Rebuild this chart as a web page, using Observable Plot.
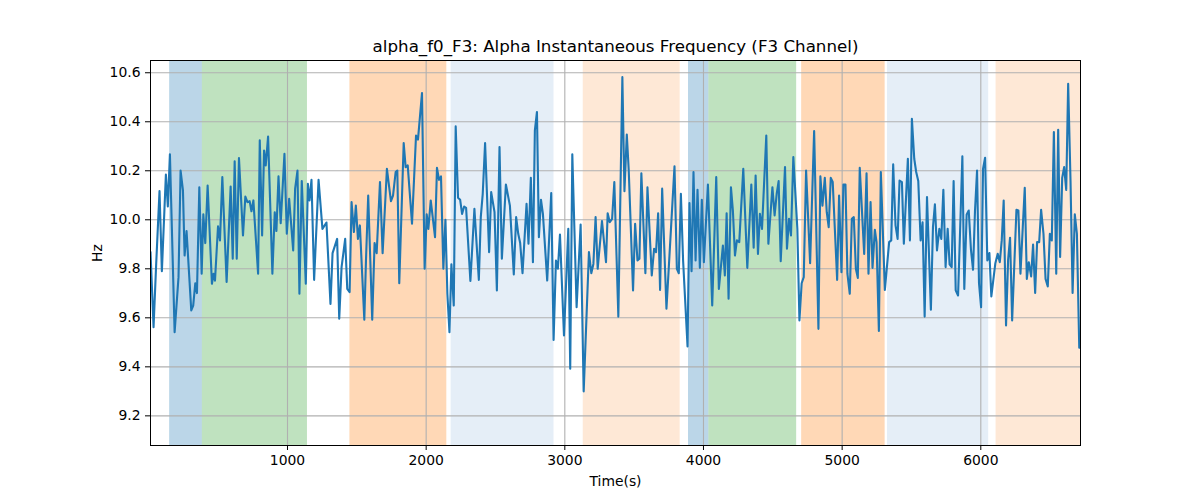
<!DOCTYPE html>
<html>
<head>
<meta charset="utf-8">
<script src="https://cdn.jsdelivr.net/npm/d3@7"></script>
<script src="https://cdn.jsdelivr.net/npm/@observablehq/plot@0.6"></script>
<style>
  html, body { margin: 0; padding: 0; background: #ffffff; }
  #chart { width: 1200px; height: 500px; }
</style>
</head>
<body>
<div id="chart"></div>
<script>
// ---- Data ----
const titleText = "alpha_f0_F3: Alpha Instantaneous Frequency (F3 Channel)";
const xLabel = "Time(s)";
const yLabel = "Hz";

const xTicks = [1000, 2000, 3000, 4000, 5000, 6000];
const yTicks = [9.2, 9.4, 9.6, 9.8, 10.0, 10.2, 10.4, 10.6];

const timeSec = [
  12,34,53,77,94,123,137,152,186,214,229,246,258,272,306,320,335,347,364,381,393,407,424,455,467,477,499,513,530,561,590,605,619,634,650,679,696,711,727,740,754,788,800,817,831,
  843,860,891,908,920,935,951,978,995,1012,1041,1055,1072,1086,1103,1132,1147,1159,1173,1192,1224,1252,1281,1310,1325,1358,1373,1390,1416,1431,1448,1462,1479,1493,1508,1522,1554,1566,1582,1611,1628,1643,1667,
  1686,1717,1746,1761,1780,1792,1806,1838,1852,1867,1898,1927,1941,1970,1989,2004,2016,2033,2064,2078,2093,2107,2124,2139,2153,2168,2182,2199,2213,2230,2245,2259,2274,2288,2319,2348,2380,2394,2408,2425,2454,2469,2493,
  2510,2529,2546,2575,2604,2632,2649,2664,2678,2695,2724,2738,2755,2770,2784,2799,2813,2828,2842,2873,2902,2919,2936,2950,2965,2994,3025,3039,3054,3085,3114,3136,3174,3191,3206,3222,3237,3268,3297,3309,3324,
  3341,3357,3386,3415,3430,3447,3461,3492,3507,3524,3538,3552,3581,3596,3627,3644,3658,3673,3687,3702,3733,3791,3808,3822,3837,3853,3885,3899,3914,3928,3943,3957,3974,3988,4003,4032,4063,4092,4111,4140,4154,
  4167,4181,4198,4212,4227,4241,4258,4287,4316,4345,4362,4376,4393,4407,4422,4453,4468,4497,4513,4528,4542,4557,4588,4602,4617,4631,4648,4677,4692,4708,4723,4740,4769,4798,4829,4843,4858,4875,4889,4903,4918,4932,4964,4978,
  4995,5009,5024,5038,5055,5070,5084,5099,5113,5127,5159,5176,5190,5205,5219,5236,5248,5265,5279,5308,5339,5354,5368,5385,5400,5414,5431,5445,5474,5489,5503,5520,5534,5549,5566,5580,5595,5612,5640,5655,5669,5684,5701,5715,5730,5746,5761,5775,5790,5804,5819,
  5836,5850,5867,5881,5898,5913,5929,5944,5958,5973,5987,6002,6016,6031,6047,6062,6076,6105,6122,6137,6151,6165,6182,6197,6211,6226,6257,6271,6286,6303,6317,6332,6346,6363,6377,6392,6406,6421,6435,6452,6467,6483,6498,6512,6527,6544,6558,6572,6587,6601,6616,6630,6647,6662,6678,6693,6710,6719
];

const freqHz = [
  9.868,9.562,9.820,10.117,9.790,10.185,10.054,10.267,9.541,9.766,10.201,10.120,9.854,9.954,9.630,9.650,9.741,9.701,10.133,9.780,10.022,9.905,10.140,9.739,9.780,9.752,9.973,9.916,10.174,9.746,10.136,9.841,10.239,9.841,10.252,9.936,10.095,10.072,10.076,10.035,10.079,9.780,10.324,9.936,10.283,
  10.222,10.340,9.780,10.031,9.954,10.177,9.986,10.269,9.943,10.086,9.875,10.127,10.201,9.698,10.158,9.739,10.147,10.079,10.163,9.755,10.163,9.963,9.989,9.657,9.864,9.922,9.596,9.807,9.922,9.718,9.705,10.072,9.950,10.058,9.922,9.977,9.592,9.834,10.099,9.592,9.905,9.864,10.154,
  9.864,10.208,10.076,10.099,10.195,10.201,9.741,10.313,10.215,10.222,9.984,10.344,10.327,10.517,9.800,10.022,9.963,10.079,9.929,10.212,10.163,10.177,9.800,10.000,9.698,9.541,9.818,9.650,10.381,10.090,10.082,10.024,10.054,10.049,9.750,10.045,9.755,10.011,10.106,10.313,9.868,10.113,10.031,
  9.712,10.297,9.841,10.144,10.058,9.777,10.011,9.943,9.905,9.782,10.065,9.902,10.171,9.827,10.365,10.440,9.929,10.082,10.024,9.752,10.109,9.510,9.834,9.800,9.940,9.528,9.963,9.392,10.267,9.643,9.981,9.300,9.868,9.782,9.820,10.011,9.800,9.995,9.827,10.027,9.990,
  10.004,10.154,9.605,10.582,10.117,10.348,10.201,9.712,9.984,9.834,9.841,10.190,9.782,10.133,9.773,9.882,9.868,10.027,9.714,10.127,9.637,10.218,9.800,9.782,10.106,9.834,9.483,10.068,9.790,10.195,9.834,10.122,9.804,10.082,9.827,10.144,9.650,10.174,9.718,9.895,9.773,
  10.027,9.678,10.133,10.038,9.854,9.916,9.909,10.208,9.804,10.144,9.886,10.181,9.861,10.024,9.963,10.344,9.902,10.133,10.018,10.106,10.158,9.831,10.215,9.882,10.004,9.936,10.256,9.963,9.589,9.741,9.766,10.201,9.823,10.362,9.555,10.177,10.058,10.171,10.031,9.970,10.171,10.154,9.755,10.099,
  9.786,10.144,10.144,9.780,9.698,10.004,10.011,9.800,9.763,10.212,9.861,10.190,9.780,10.072,9.804,9.959,9.909,9.546,10.195,9.714,9.909,9.916,10.226,9.977,9.922,10.160,10.154,9.902,10.249,9.916,10.412,10.249,10.195,10.158,9.916,9.990,9.605,10.093,9.633,9.970,10.063,9.875,9.963,9.922,10.122,9.807,9.963,9.818,9.807,10.158,9.712,
  9.691,9.943,10.259,9.718,10.022,10.038,9.878,9.796,10.035,10.201,9.741,9.643,10.208,10.253,9.834,9.864,9.687,9.823,9.861,9.827,9.916,10.079,9.569,9.837,9.927,9.589,10.041,10.038,9.780,9.973,10.131,9.759,9.827,9.769,9.899,9.701,9.909,9.909,10.041,9.943,9.759,9.728,9.943,9.916,10.358,9.780,10.367,9.848,10.171,10.215,10.122,10.555,10.160,9.701,10.022,9.943,9.478,9.478
];

// shaded segments: start / end (s) and kind
const bandStart = [150, 386, 1450, 2180, 3133, 3892, 4039, 4708, 5327, 6110];
const bandEnd   = [386, 1144, 2149, 2922, 3832, 4039, 4672, 5310, 6057, 6725];
const bandKind  = ["A", "B", "C", "D", "E", "A", "B", "C", "D", "E"];

// ---- Build tables ----
const n = Math.min(timeSec.length, freqHz.length);
if (timeSec.length !== freqHz.length) console.warn("length mismatch", timeSec.length, freqHz.length);
const series = d3.range(n).map(i => ({t: timeSec[i], v: freqHz[i]}));
const bands = bandStart.map((s, i) => ({start: s, end: bandEnd[i], kind: bandKind[i]}));

const kindFill = {A: "#1f77b4", B: "#2ca02c", C: "#ff7f0e", D: "#6e9fd2", E: "#fdae6b"};
const kindOpacity = {A: 0.3, B: 0.3, C: 0.3, D: 0.18, E: 0.28};

const font = "DejaVu Sans, Liberation Sans, sans-serif";

const chart = Plot.plot({
  width: 1200,
  height: 500,
  marginLeft: 150,
  marginRight: 120,
  marginTop: 60,
  marginBottom: 55,
  style: {fontFamily: font, fontSize: "13.9px", background: "#ffffff", color: "#000000", overflow: "visible"},
  x: {domain: [d3.min(timeSec), d3.max(timeSec)]},
  y: {domain: [9.079, 10.650]},
  marks: [
    Plot.rect(bands, {
      x1: "start", x2: "end",
      fill: d => kindFill[d.kind],
      fillOpacity: d => kindOpacity[d.kind],
      clip: true
    }),
    Plot.gridX(xTicks, {stroke: "#b0b0b0", strokeOpacity: 1, strokeWidth: 1.1}),
    Plot.gridY(yTicks, {stroke: "#b0b0b0", strokeOpacity: 1, strokeWidth: 1.1}),
    Plot.line(series, {x: "t", y: "v", stroke: "#1f77b4", strokeWidth: 2.1, clip: true}),
    Plot.frame({stroke: "#000000", strokeWidth: 1}),
    Plot.axisX(xTicks, {tickSize: 5, tickPadding: 5, label: null, fontSize: 13.9, tickFormat: d3.format("d")}),
    Plot.axisY(yTicks, {tickSize: 5, tickPadding: 5, label: null, fontSize: 13.9, tickFormat: d3.format(".1f")}),
    Plot.text([titleText], {text: d => d, frameAnchor: "top", lineAnchor: "middle", dy: -14, fontSize: 16.7, fill: "#000000"}),
    Plot.text([xLabel], {text: d => d, frameAnchor: "bottom", lineAnchor: "middle", dy: 36, fontSize: 13.9, fill: "#000000"}),
    Plot.text([yLabel], {text: d => d, frameAnchor: "left", textAnchor: "middle", lineAnchor: "middle", dx: -53, rotate: -90, fontSize: 13.9, fill: "#000000"})
  ]
});

document.getElementById("chart").appendChild(chart);
</script>
</body>
</html>
